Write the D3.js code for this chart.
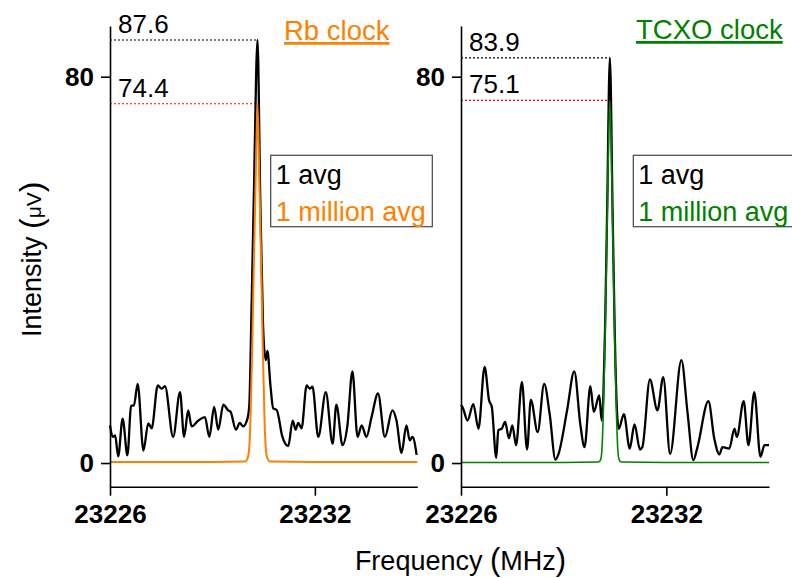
<!DOCTYPE html>
<html>
<head>
<meta charset="utf-8">
<script src="https://cdn.jsdelivr.net/npm/d3@7"></script>
<style>
    body { margin: 0; background: #fff; }
    text { font-family: "Liberation Sans", Arial, sans-serif; }
</style>
</head>
<body>
<script>
// ---- data ----
var freqTicks = [23226, 23232];
var intensityTicks = [0, 80];

// Rb clock, 1 avg (black)
var rbSingleFreq = [23226.00, 23226.08, 23226.15, 23226.24, 23226.37, 23226.51, 23226.62, 23226.70, 23226.81, 23226.98,
    23227.12, 23227.22, 23227.40, 23227.51, 23227.61, 23227.85, 23228.05, 23228.17, 23228.29, 23228.39,
    23228.59, 23228.78, 23228.91, 23229.05, 23229.17, 23229.32, 23229.46, 23229.53, 23229.69, 23229.80,
    23229.90, 23230.03, 23230.08, 23230.14, 23230.22, 23230.32, 23230.40, 23230.48, 23230.56, 23230.61,
    23230.70, 23230.78, 23230.88, 23231.05, 23231.22, 23231.35, 23231.44, 23231.51, 23231.61, 23231.76,
    23231.85, 23231.93, 23232.10, 23232.32, 23232.52, 23232.63, 23232.81, 23232.95, 23233.10, 23233.25,
    23233.37, 23233.51, 23233.66, 23233.85, 23234.05, 23234.27, 23234.39, 23234.54, 23234.68, 23234.78,
    23234.86, 23234.98];
var rbSingleVal = [7.8, 5.4, 5.7, 1.4, 9.2, 1.6, 11.9, 11.9, 16.4, 2.6,
    8.2, 7.2, 16.1, 15.4, 15.9, 5.4, 14.7, 5.4, 10.9, 7.6,
    8.8, 9.5, 5.4, 11.6, 6.9, 12.1, 10.9, 10.6, 6.9, 8.3,
    7.6, 9.3, 12.0, 30.0, 58.0, 87.6, 55.0, 29.0, 21.3, 23.2,
    16.0, 11.3, 11.0, 5.4, 3.5, 8.8, 6.9, 8.3, 7.2, 16.1,
    15.4, 15.8, 5.4, 14.7, 4.0, 12.1, 3.7, 7.6, 19.0, 5.4,
    7.8, 5.4, 9.5, 14.4, 5.4, 10.9, 8.8, 2.1, 7.8, 4.7,
    5.4, 1.7];

// Rb clock, 1 million avg (orange)
var rbMillionFreq = [23226.00, 23227.00, 23228.00, 23229.00, 23229.95, 23230.02, 23230.07, 23230.11, 23230.16, 23230.21,
    23230.27, 23230.32, 23230.37, 23230.43, 23230.48, 23230.53, 23230.57, 23230.62, 23230.69, 23232.00,
    23235.00];
var rbMillionVal = [0.2, 0.2, 0.2, 0.2, 0.3, 0.8, 2.5, 8.0, 22.0, 40.0,
    60.0, 74.4, 60.0, 40.0, 22.0, 8.0, 2.5, 0.8, 0.3, 0.2,
    0.2];

// TCXO clock, 1 avg (black)
var tcxoSingleFreq = [23226.00, 23226.05, 23226.19, 23226.36, 23226.51, 23226.69, 23226.82, 23226.90, 23227.03, 23227.09,
    23227.19, 23227.29, 23227.40, 23227.50, 23227.61, 23227.78, 23227.93, 23228.04, 23228.24, 23228.43,
    23228.59, 23228.76, 23228.85, 23229.10, 23229.31, 23229.49, 23229.61, 23229.78, 23229.88, 23230.04,
    23230.11, 23230.16, 23230.21, 23230.27, 23230.35, 23230.43, 23230.49, 23230.55, 23230.61, 23230.76,
    23230.93, 23231.07, 23231.23, 23231.30, 23231.52, 23231.74, 23231.91, 23232.11, 23232.44, 23232.62,
    23232.79, 23232.91, 23233.23, 23233.40, 23233.55, 23233.64, 23233.84, 23233.99, 23234.06, 23234.26,
    23234.40, 23234.57, 23234.75, 23234.87, 23235.00];
var tcxoSingleVal = [12.0, 11.5, 8.8, 12.2, 7.1, 19.9, 13.0, 11.6, 1.1, 6.8,
    7.1, 8.5, 5.1, 7.8, 3.7, 16.8, 2.8, 13.1, 6.4, 16.4,
    10.2, 0.7, 1.9, 10.9, 19.0, 7.8, 3.3, 15.9, 10.6, 14.0,
    8.8, 14.0, 28.0, 52.0, 83.9, 52.0, 28.0, 12.0, 7.1, 10.1,
    3.0, 8.0, 2.8, 3.3, 17.3, 10.9, 17.8, 1.9, 21.3, 10.4,
    0.6, 3.3, 12.8, 5.1, 1.8, 3.3, 3.0, 7.1, 5.4, 12.8,
    3.7, 14.7, 1.3, 3.7, 3.7];

// TCXO clock, 1 million avg (green)
var tcxoMillionFreq = [23226.00, 23227.00, 23228.00, 23229.00, 23230.02, 23230.08, 23230.12, 23230.16, 23230.21, 23230.27,
    23230.35, 23230.43, 23230.49, 23230.54, 23230.58, 23230.62, 23230.68, 23232.00, 23235.00];
var tcxoMillionVal = [0.1, 0.1, 0.1, 0.1, 0.2, 0.7, 3.0, 11.0, 26.0, 50.0,
    75.1, 50.0, 26.0, 11.0, 3.0, 0.7, 0.2, 0.1, 0.1];

var panels = [
    { title: "Rb clock", color: "#ff8000", left: 110, right: 417.3, titleX: 284, titleY: 40, legendX: 270.7,
      single: [rbSingleFreq, rbSingleVal], million: [rbMillionFreq, rbMillionVal], lw: 2 },
    { title: "TCXO clock", color: "#008000", left: 461, right: 769, titleX: 636, titleY: 39, legendX: 633.3,
      single: [tcxoSingleFreq, tcxoSingleVal], million: [tcxoMillionFreq, tcxoMillionVal], lw: 1.6 }
];

var width = 792, height = 578;
var plotTop = 26, plotBottom = 486.7;

var svg = d3.select("body").append("svg")
    .attr("width", width)
    .attr("height", height);

var y = d3.scaleLinear().domain([-4.9, 90.5]).range([plotBottom, plotTop]);

function drawPanel(p) {
    var x = d3.scaleLinear().domain([23226, 23235]).range([p.left, p.right]);
    var g = svg.append("g");

    var line = d3.line()
        .x(function(d) { return x(d[0]); })
        .y(function(d) { return y(d[1]); })
        .curve(d3.curveMonotoneX);

    var single = d3.zip(p.single[0], p.single[1]);
    var million = d3.zip(p.million[0], p.million[1]);

    // peak markers (dotted) + values
    var peaks = [
        { d: single[d3.maxIndex(p.single[1])], stroke: "#000" },
        { d: million[d3.maxIndex(p.million[1])], stroke: "#ff0000" }
    ];
    peaks.forEach(function(pk) {
        g.append("line")
            .attr("x1", p.left).attr("x2", x(pk.d[0]))
            .attr("y1", y(pk.d[1])).attr("y2", y(pk.d[1]))
            .attr("stroke", pk.stroke)
            .attr("stroke-width", 1.2)
            .attr("stroke-dasharray", "2,2");
        g.append("text")
            .attr("x", p.left + 8)
            .attr("y", y(pk.d[1]) - 7)
            .attr("font-size", 26)
            .text(d3.format(".1f")(pk.d[1]));
    });

    // traces
    g.append("path")
        .datum(single)
        .attr("fill", "none")
        .attr("stroke", "#000")
        .attr("stroke-width", 2.3)
        .attr("stroke-linejoin", "round")
        .attr("d", line);

    g.append("path")
        .datum(million)
        .attr("fill", "none")
        .attr("stroke", p.color)
        .attr("stroke-width", p.lw)
        .attr("stroke-linejoin", "round")
        .attr("d", line);

    // axes
    var yAxis = g.append("g")
        .attr("transform", "translate(" + p.left + ",0)")
        .call(d3.axisLeft(y).tickValues(intensityTicks).tickSize(9).tickSizeOuter(0).tickPadding(7));
    var xAxis = g.append("g")
        .attr("transform", "translate(0," + plotBottom + ")")
        .call(d3.axisBottom(x).tickValues(freqTicks).tickFormat(d3.format("d"))
            .tickSize(9).tickSizeOuter(0).tickPadding(9));

    [yAxis, xAxis].forEach(function(a) {
        a.attr("font-size", 26)
            .attr("font-weight", "bold")
            .attr("font-family", "'Liberation Sans', Arial, sans-serif");
        a.selectAll("path, line").attr("stroke", "#000").attr("stroke-width", 1.6);
    });

    // title
    g.append("text")
        .attr("x", p.titleX)
        .attr("y", p.titleY)
        .attr("font-size", 27.5)
        .attr("fill", p.color)
        .style("text-decoration", "underline")
        .text(p.title);

    // legend
    var lx = p.legendX, ly = 155.3;
    g.append("rect")
        .attr("x", lx).attr("y", ly)
        .attr("width", 161.6).attr("height", 71.4)
        .attr("fill", "#fff")
        .attr("stroke", "#444")
        .attr("stroke-width", 1.2);
    g.append("text")
        .attr("x", lx + 5).attr("y", ly + 29)
        .attr("font-size", 27)
        .text("1 avg");
    g.append("text")
        .attr("x", lx + 5).attr("y", ly + 66)
        .attr("font-size", 27)
        .attr("fill", p.color)
        .text("1 million avg");
}

panels.forEach(drawPanel);

// axis titles
var yTitle = svg.append("text")
    .attr("transform", "translate(41,337) rotate(-90)")
    .attr("font-size", 27);
yTitle.append("tspan").text("Intensity ");
yTitle.append("tspan").attr("font-size", 32).attr("dy", 1).text("(");
yTitle.append("tspan").attr("font-size", 21).attr("dy", -1).text("\u03bcV");
yTitle.append("tspan").attr("font-size", 32).attr("dy", 1).text(")");

var xTitle = svg.append("text")
    .attr("x", 460.5)
    .attr("y", 570)
    .attr("text-anchor", "middle")
    .attr("font-size", 27);
xTitle.append("tspan").text("Frequency ");
xTitle.append("tspan").attr("font-size", 31).text("(");
xTitle.append("tspan").text("MHz");
xTitle.append("tspan").attr("font-size", 31).text(")");
</script>
</body>
</html>
